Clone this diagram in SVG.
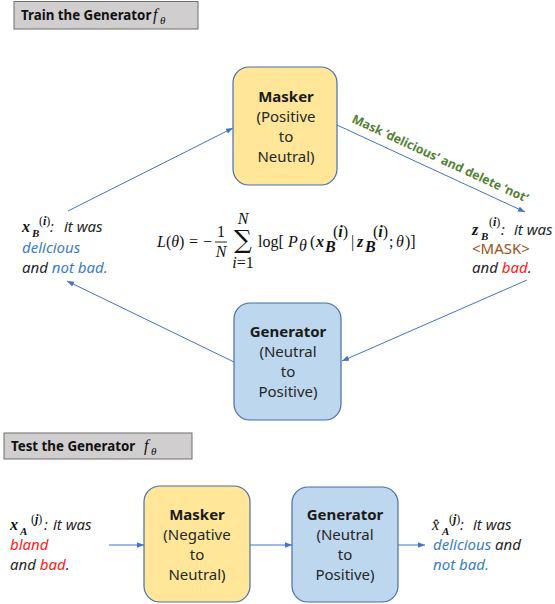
<svg xmlns="http://www.w3.org/2000/svg" width="555" height="604" viewBox="0 0 555 604">
  <style>
    .title-box { fill: #d0cece; stroke: #6f6f6f; stroke-width: 1; }
    .title { font-family: "Noto Sans", "Liberation Sans", sans-serif; font-weight: bold; font-size: 13.3px; fill: #111; }
    .masker { fill: #ffe699; stroke: #4a6ea8; stroke-width: 1.2; }
    .generator { fill: #bdd7ee; stroke: #4a6ea8; stroke-width: 1.2; }
    .node-title { font-family: "Noto Sans", "Liberation Sans", sans-serif; font-weight: bold; font-size: 15px; fill: #1a1a1a; text-anchor: middle; }
    .node-text { font-family: "Noto Sans", "Liberation Sans", sans-serif; font-size: 15px; fill: #262626; text-anchor: middle; }
    .edge { stroke: #4472c4; stroke-width: 1; fill: none; marker-end: url(#arrow); }
    .math { font-family: "Liberation Serif", "DejaVu Serif", serif; font-size: 16px; fill: #111; }
    .mi { font-style: italic; }
    .mb { font-style: italic; font-weight: bold; }
    .sent { font-family: "Noto Sans", "Liberation Sans", sans-serif; font-size: 15px; font-style: italic; fill: #262626; }
    .blue { fill: #3b7dc4; }
    .red { fill: #ff1a1a; }
    .brown { fill: #9c4f1e; font-style: normal; }
    .edge-label { font-family: "Noto Sans", "Liberation Sans", sans-serif; font-size: 12.3px; font-weight: bold; fill: #548235; }
  </style>
  <defs>
    <marker id="arrow" markerUnits="userSpaceOnUse" markerWidth="8" markerHeight="6" refX="7" refY="3" orient="auto">
      <path d="M0,0.3 L7,3 L0,5.7 z" fill="#4472c4"/>
    </marker>
  </defs>

  <!-- Section headers -->
  <g id="header-train">
    <rect class="title-box" x="14" y="1.5" width="184" height="27.5"/>
    <text class="title" x="21" y="20">Train the Generator</text>
    <text class="math" x="153" y="20" font-size="17"><tspan class="mi">f</tspan><tspan class="mi" font-size="11" x="160" y="24">θ</tspan></text>
  </g>
  <g id="header-test">
    <rect class="title-box" x="4" y="433" width="188" height="26"/>
    <text class="title" x="11" y="451">Test the Generator</text>
    <text class="math" x="144" y="451" font-size="17"><tspan class="mi">f</tspan><tspan class="mi" font-size="11" x="151" y="455">θ</tspan></text>
  </g>

  <!-- Connectors -->
  <g id="connectors">
    <line class="edge" x1="68" y1="211" x2="233" y2="128"/>
    <line class="edge" x1="337" y1="125" x2="525" y2="212"/>
    <line class="edge" x1="527" y1="280" x2="342" y2="361"/>
    <line class="edge" x1="234" y1="362" x2="67" y2="281"/>
    <line class="edge" x1="109" y1="545" x2="144" y2="545"/>
    <line class="edge" x1="250" y1="545" x2="292" y2="545"/>
    <line class="edge" x1="398" y1="545" x2="425" y2="545"/>
    <text class="edge-label" transform="translate(351,122) rotate(24.8)">Mask ‘delicious’ and delete ‘not’</text>
  </g>

  <!-- Training loop nodes -->
  <g id="masker-train">
    <rect class="masker" x="233" y="67" width="104" height="118" rx="16"/>
    <text class="node-title" x="286" y="102">Masker</text>
    <text class="node-text" x="286" y="122">(Positive</text>
    <text class="node-text" x="286" y="142">to</text>
    <text class="node-text" x="286" y="162">Neutral)</text>
  </g>
  <g id="generator-train">
    <rect class="generator" x="234" y="303" width="107" height="117" rx="16"/>
    <text class="node-title" x="288" y="337">Generator</text>
    <text class="node-text" x="288" y="357">(Neutral</text>
    <text class="node-text" x="288" y="377">to</text>
    <text class="node-text" x="288" y="397">Positive)</text>
  </g>

  <!-- Original sentence x_B -->
  <g id="x-b">
    <text class="math" font-size="17" x="22" y="232"><tspan class="mb">x</tspan><tspan class="mb" font-size="11" x="32" y="237">B</tspan><tspan font-size="12" x="39" y="225">(</tspan><tspan class="mb" font-size="12">i</tspan><tspan font-size="12">)</tspan></text>
    <text class="sent" x="50" y="232">:</text>
    <text class="sent" x="64" y="232">it was</text>
    <text class="sent blue" x="22" y="253">delicious</text>
    <text class="sent" x="22" y="273">and <tspan class="blue">not bad.</tspan></text>
  </g>

  <!-- Masked sentence z_B -->
  <g id="z-b">
    <text class="math" font-size="17" x="472" y="235"><tspan class="mb">z</tspan><tspan class="mb" font-size="11" x="481" y="240">B</tspan><tspan font-size="12" x="489" y="226">(</tspan><tspan class="mb" font-size="12">i</tspan><tspan font-size="12">)</tspan></text>
    <text class="sent" x="501" y="235">:</text>
    <text class="sent" x="514" y="235">it was</text>
    <text class="sent brown" x="472" y="254">&lt;MASK&gt;</text>
    <text class="sent" x="472" y="273">and <tspan class="red">bad</tspan>.</text>
  </g>

  <!-- Training objective -->
  <g id="loss">
    <text class="math" x="157" y="247"><tspan class="mi">L</tspan>(<tspan class="mi">θ</tspan>)</text>
    <text class="math" x="189" y="247">=</text>
    <text class="math" x="203" y="247">−</text>
    <text class="math" x="221" y="237" text-anchor="middle">1</text>
    <line x1="215" y1="242" x2="227" y2="242" stroke="#111" stroke-width="0.9"/>
    <text class="math mi" x="221" y="257" text-anchor="middle">N</text>
    <text x="243" y="248" font-family="DejaVu Serif, serif" font-size="25" fill="#111" text-anchor="middle">∑</text>
    <text class="math mi" x="243" y="224" font-size="11" text-anchor="middle">N</text>
    <text class="math" x="243" y="268" font-size="11" text-anchor="middle"><tspan class="mi">i</tspan>=1</text>
    <text class="math" x="258" y="247">log[</text>
    <text class="math mi" x="288" y="247">P</text>
    <text class="math mi" x="299" y="251" font-size="11">θ</text>
    <text class="math" x="310" y="247">(</text>
    <text class="math mb" x="316" y="247">x</text>
    <text class="math mb" x="325" y="252" font-size="11">B</text>
    <text class="math" x="333" y="237" font-size="11">(<tspan class="mb">i</tspan>)</text>
    <text class="math" x="351" y="247">|</text>
    <text class="math mb" x="357" y="247">z</text>
    <text class="math mb" x="365" y="252" font-size="11">B</text>
    <text class="math" x="373" y="237" font-size="11">(<tspan class="mb">i</tspan>)</text>
    <text class="math" x="389" y="247">;</text>
    <text class="math mi" x="396" y="247">θ</text>
    <text class="math" x="405" y="247">)]</text>
  </g>

  <!-- Test pipeline -->
  <g id="x-a">
    <text class="math" font-size="17" x="10" y="530"><tspan class="mb">x</tspan><tspan class="mb" font-size="11" x="20" y="535">A</tspan><tspan font-size="12" x="31" y="523">(</tspan><tspan class="mb" font-size="12">j</tspan><tspan font-size="12">)</tspan></text>
    <text class="sent" x="44" y="530">:</text>
    <text class="sent" x="53" y="530">it was</text>
    <text class="sent red" x="10" y="550">bland</text>
    <text class="sent" x="10" y="570">and <tspan class="red">bad</tspan>.</text>
  </g>
  <g id="masker-test">
    <rect class="masker" x="144" y="486" width="106" height="116" rx="16"/>
    <text class="node-title" x="197" y="520">Masker</text>
    <text class="node-text" x="197" y="540">(Negative</text>
    <text class="node-text" x="197" y="560">to</text>
    <text class="node-text" x="197" y="580">Neutral)</text>
  </g>
  <g id="generator-test">
    <rect class="generator" x="292" y="487" width="106" height="115" rx="16"/>
    <text class="node-title" x="345" y="520">Generator</text>
    <text class="node-text" x="345" y="540">(Neutral</text>
    <text class="node-text" x="345" y="560">to</text>
    <text class="node-text" x="345" y="580">Positive)</text>
  </g>
  <g id="x-a-hat">
    <text class="math" font-size="17" x="432" y="530"><tspan class="mi">x̂</tspan><tspan class="mb" font-size="11" x="442" y="535">A</tspan><tspan font-size="12" x="449" y="523">(</tspan><tspan class="mb" font-size="12">j</tspan><tspan font-size="12">)</tspan></text>
    <text class="sent" x="460" y="530">:</text>
    <text class="sent" x="473" y="530">it was</text>
    <text class="sent" x="433" y="550"><tspan class="blue">delicious</tspan> and</text>
    <text class="sent blue" x="433" y="570">not bad.</text>
  </g>
</svg>
